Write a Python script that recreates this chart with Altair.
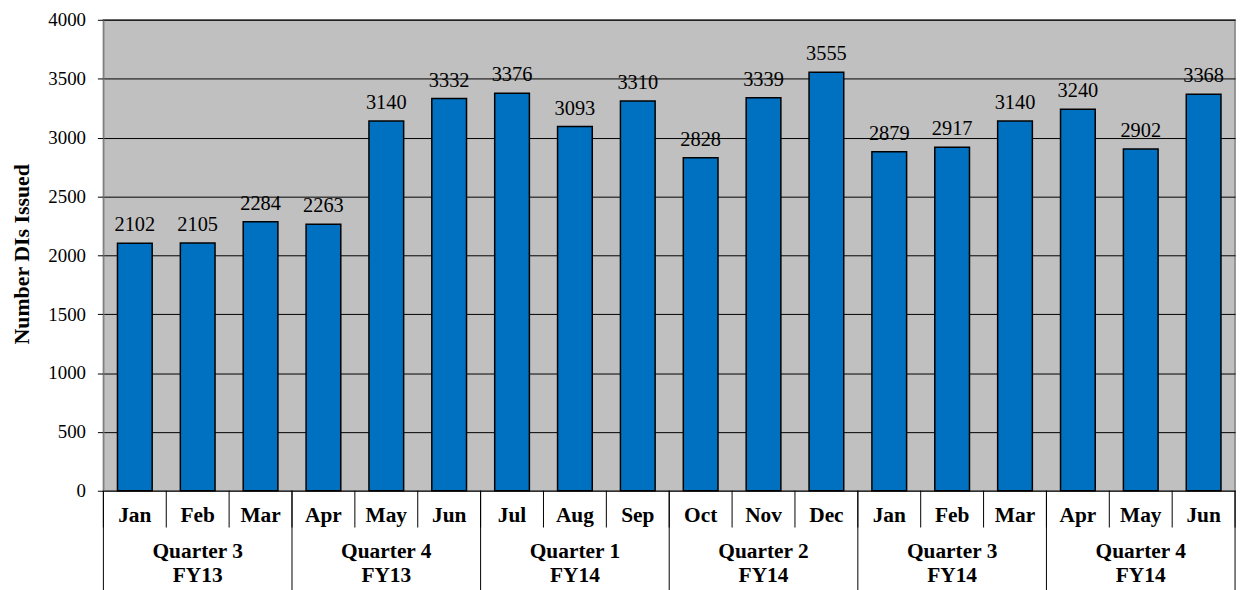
import altair as alt
import pandas as pd

months = ["Jan", "Feb", "Mar", "Apr", "May", "Jun", "Jul", "Aug", "Sep",
          "Oct", "Nov", "Dec", "Jan", "Feb", "Mar", "Apr", "May", "Jun"]
values = [2102, 2105, 2284, 2263, 3140, 3332, 3376, 3093, 3310,
          2828, 3339, 3555, 2879, 2917, 3140, 3240, 2902, 3368]
quarters = ["Quarter 3", "Quarter 4", "Quarter 1", "Quarter 2", "Quarter 3", "Quarter 4"]
fiscal_years = ["FY13", "FY13", "FY14", "FY14", "FY14", "FY14"]
y_ticks = [0, 500, 1000, 1500, 2000, 2500, 3000, 3500, 4000]

FONT = "Liberation Serif"
TOP = 18          # page y of plot top
BOTTOM = 492      # page y of plot bottom
W, H = 1139, BOTTOM - TOP

bars_df = pd.DataFrame({"idx": list(range(len(months))), "month": months, "value": values})
q_df = pd.DataFrame({"q": list(range(len(quarters))), "quarter": quarters, "fy": fiscal_years})
sep_df = pd.DataFrame({"b": list(range(len(months) + 1))})

xs = alt.Scale(domain=[0, len(months)], nice=False, zero=False)
ys = alt.Scale(domain=[0, 4000], nice=False)

base = alt.Chart(bars_df).transform_calculate(
    x0="datum.idx + 0.224", x1="datum.idx + 0.776", xc="datum.idx + 0.5"
)

bars = base.mark_rect(color="#0070C0", stroke="black", strokeWidth=1.5).encode(
    x=alt.X("x0:Q", scale=xs, axis=None),
    x2="x1:Q",
    y=alt.Y("value:Q", scale=ys,
            axis=alt.Axis(values=y_ticks, format="d", title="Number DIs Issued", grid=True,
                          gridColor="black", gridWidth=1, gridOpacity=1,
                          domainColor="#808080", domainWidth=1,
                          tickColor="black", tickSize=6,
                          labelFont=FONT, labelFontSize=19, labelColor="black",
                          labelPadding=12,
                          titleFont=FONT, titleFontSize=22, titleFontWeight="bold",
                          titleColor="black", titleAngle=-90,
                          titleX=-82, titleY=253.5 - TOP, titleAlign="center",
                          titleBaseline="middle")),
    y2=alt.datum(0),
)

labels = base.mark_text(font=FONT, fontSize=20.5, baseline="alphabetic", dy=-12,
                        color="black").encode(
    x=alt.X("xc:Q", scale=xs, axis=None),
    y=alt.Y("value:Q", scale=ys),
    text=alt.Text("value:Q", format="d"),
)

month_text = base.mark_text(font=FONT, fontSize=21.5, fontWeight="bold",
                            baseline="middle", color="black").encode(
    x=alt.X("xc:Q", scale=xs, axis=None),
    y=alt.value(517 - TOP),
    text="month:N",
)

qbase = alt.Chart(q_df).transform_calculate(qc="datum.q * 3 + 1.5")
q_text = qbase.mark_text(font=FONT, fontSize=21.5, fontWeight="bold",
                         baseline="middle", color="black").encode(
    x=alt.X("qc:Q", scale=xs, axis=None), y=alt.value(554 - TOP), text="quarter:N")
fy_text = qbase.mark_text(font=FONT, fontSize=21.5, fontWeight="bold",
                          baseline="middle", color="black").encode(
    x=alt.X("qc:Q", scale=xs, axis=None), y=alt.value(578 - TOP), text="fy:N")

month_sep = alt.Chart(sep_df).mark_rule(color="black", strokeWidth=1).encode(
    x=alt.X("b:Q", scale=xs, axis=None), y=alt.value(H), y2=alt.value(529 - TOP))
quarter_sep = alt.Chart(sep_df).transform_filter("datum.b % 3 == 0").mark_rule(
    color="black", strokeWidth=1).encode(
    x=alt.X("b:Q", scale=xs, axis=None), y=alt.value(H), y2=alt.value(595 - TOP))

chart = alt.layer(bars, labels, month_text, q_text, fy_text, month_sep, quarter_sep).properties(
    width=W, height=H,
    autosize=alt.AutoSizeParams(type="none"),
    padding={"left": 96, "top": TOP - 8, "right": 8, "bottom": 100},
).configure_view(fill="#C0C0C0", stroke="#808080", strokeWidth=1.5)

chart.save("out.html", embed_options={"renderer": "svg", "actions": False})
